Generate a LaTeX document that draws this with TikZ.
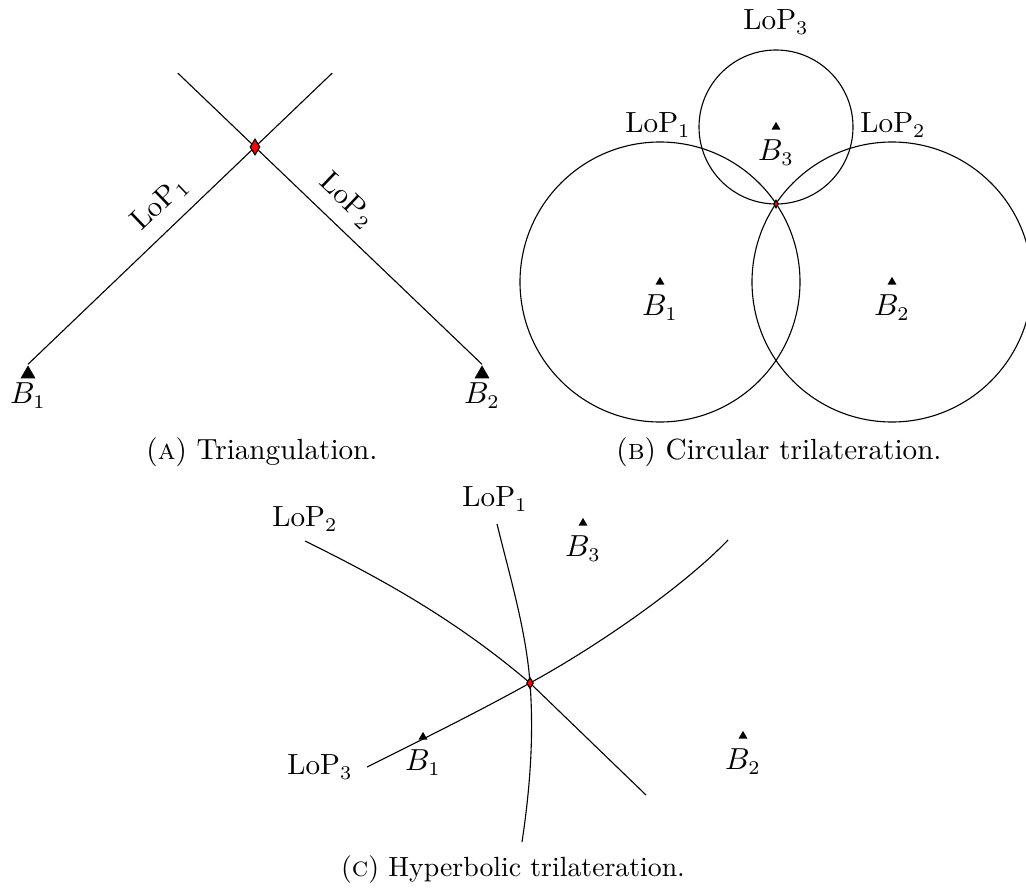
\documentclass[tikz,border=0pt]{standalone}
\usepackage{amsmath}
\usepackage{tikz}
\usetikzlibrary{shapes.geometric,positioning,calc}
\definecolor{fixred}{RGB}{255,0,0}

\begin{document}
\begin{tikzpicture}[x=0.36pt, y=-0.36pt, every node/.style={font=\fontsize{10.5pt}{12.6pt}\selectfont}]
  \tikzset{
    beacon/.style={regular polygon, regular polygon sides=3, fill=black, inner sep=0pt, minimum size=#1},
    beacon/.default=3.7pt,
    fixmark/.style={diamond, draw=black, fill=fixred, inner sep=0pt},
    lop/.style={inner sep=2pt}
  }
  \useasboundingbox (0,0) rectangle (1026,891);

  % (a) triangulation
  \node[beacon=6.2pt] (a-b1) at (28,374) {};
  \node[beacon=6.2pt] (a-b2) at (482,374) {};
  \node[below=-2pt of a-b1] (a-b1-lbl) {$B_1$};
  \node[below=-2pt of a-b2] (a-b2-lbl) {$B_2$};
  \coordinate (a-fix) at (255,147);
  \draw (a-b1.corner 1) -- ($(a-b1.corner 1)!1.34!(a-fix)$)
    node[pos=0.49, sloped, above, yshift=1pt] (a-lop1) {LoP$_1$};
  \draw (a-b2.corner 1) -- ($(a-b2.corner 1)!1.34!(a-fix)$)
    node[pos=0.50, sloped, above, yshift=1pt] (a-lop2) {LoP$_2$};
  \node[fixmark, minimum width=3.6pt, minimum height=5.8pt] (a-fixmark) at (a-fix) {};
  \node (cap-a) at (262,452) {(\textsc{a}) Triangulation.};

  % (b) circular trilateration
  \node[beacon] (b-b1) at (660,282) {};
  \node[beacon] (b-b2) at (892,282) {};
  \node[beacon] (b-b3) at (776,127) {};
  \node[below=0pt of b-b1] (b-b1-lbl) {$B_1$};
  \node[below=0pt of b-b2] (b-b2-lbl) {$B_2$};
  \node[below=0pt of b-b3] (b-b3-lbl) {$B_3$};
  \draw (b-b1) circle[radius=140];
  \draw (b-b2) circle[radius=140];
  \draw (b-b3) circle[radius=77];
  \node[lop] (b-lop1) at (658,125) {LoP$_1$};
  \node[lop] (b-lop2) at (893,125) {LoP$_2$};
  \node[lop] (b-lop3) at (776,22) {LoP$_3$};
  \node[fixmark, minimum width=1.8pt, minimum height=2.9pt] (b-fix) at (776,204) {};
  \node (cap-b) at (779,452) {(\textsc{b}) Circular trilateration.};

  % (c) hyperbolic trilateration
  \node[beacon] (c-b1) at (423,737) {};
  \node[beacon] (c-b2) at (743,736) {};
  \node[beacon] (c-b3) at (583,523) {};
  \node[below=0pt of c-b1] (c-b1-lbl) {$B_1$};
  \node[below=0pt of c-b2] (c-b2-lbl) {$B_2$};
  \node[below=0pt of c-b3] (c-b3-lbl) {$B_3$};
  \coordinate (c-fix) at (530,683);
  % LoP1
  \draw (497,524) .. controls (510,577) and (526,630) .. (c-fix)
    .. controls (534,736) and (530,789) .. (522,842);
  % LoP2
  \draw (305,541) .. controls (380,578) and (455,619) .. (c-fix) -- (646,795);
  % LoP3
  \draw (367,767) .. controls (421,740) and (476,713) .. (c-fix)
    .. controls (596,647) and (683,587) .. (728,540);
  \node[lop] (c-lop1) at (495,499) {LoP$_1$};
  \node[lop] (c-lop2) at (305,519) {LoP$_2$};
  \node[lop] (c-lop3) at (320,767) {LoP$_3$};
  \node[fixmark, minimum width=2.5pt, minimum height=4pt] (c-fixmark) at (c-fix) {};
  \node[font=\normalsize] (cap-c) at (513,870) {(\textsc{c}) Hyperbolic trilateration.};
\end{tikzpicture}
\end{document}
